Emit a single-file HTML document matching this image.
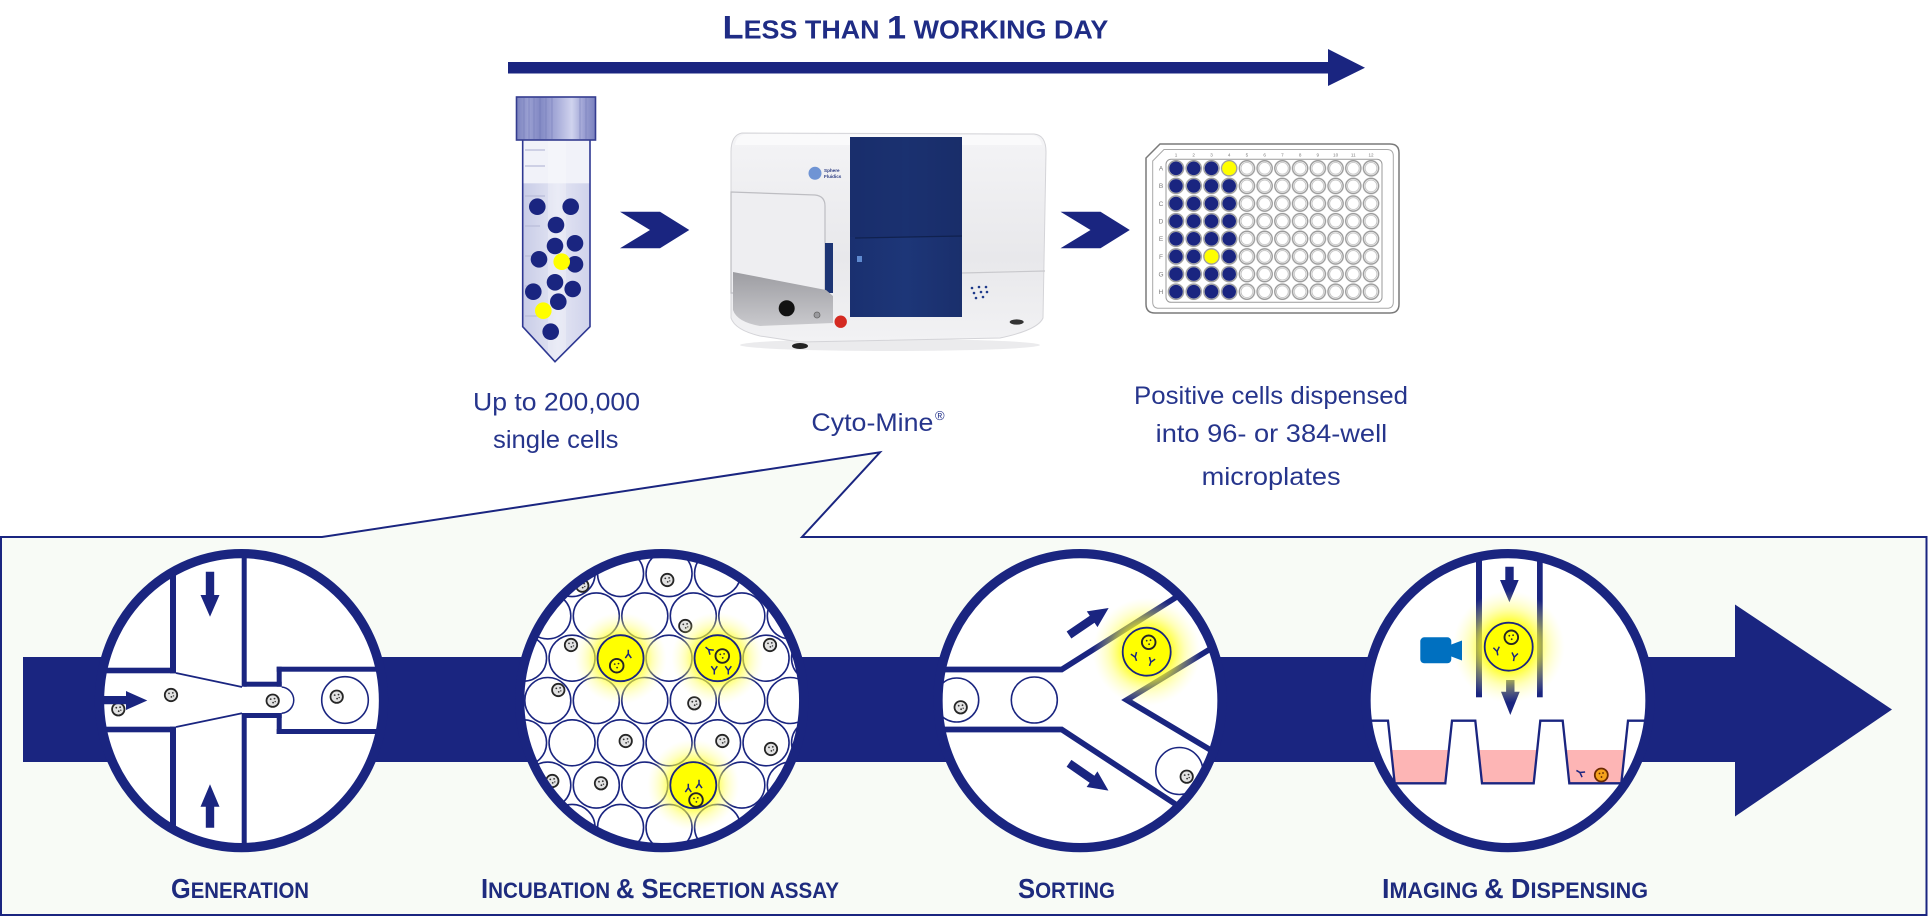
<!DOCTYPE html>
<html>
<head>
<meta charset="utf-8">
<style>
html,body{margin:0;padding:0;background:#ffffff;}
svg{display:block;}
</style>
</head>
<body>
<svg width="1928" height="920" viewBox="0 0 1928 920" xmlns="http://www.w3.org/2000/svg" xmlns:xlink="http://www.w3.org/1999/xlink" font-family="'Liberation Sans', Arial, sans-serif">
<defs>
  <radialGradient id="glow">
    <stop offset="0" stop-color="#ffff00" stop-opacity="1"/>
    <stop offset="0.45" stop-color="#ffff10" stop-opacity="0.85"/>
    <stop offset="0.7" stop-color="#ffff50" stop-opacity="0.4"/>
    <stop offset="1" stop-color="#ffffa0" stop-opacity="0"/>
  </radialGradient>
  <linearGradient id="capg" x1="0" x2="1" y1="0" y2="0">
    <stop offset="0" stop-color="#7c83bf"/>
    <stop offset="0.15" stop-color="#9aa0d2"/>
    <stop offset="0.3" stop-color="#8289c4"/>
    <stop offset="0.5" stop-color="#a5aad8"/>
    <stop offset="0.7" stop-color="#d0d3ee"/>
    <stop offset="0.85" stop-color="#9ca1d3"/>
    <stop offset="1" stop-color="#7a81be"/>
  </linearGradient>
  <linearGradient id="liq" x1="0" x2="1" y1="0" y2="0">
    <stop offset="0" stop-color="#c6cae6"/>
    <stop offset="0.5" stop-color="#e3e5f3"/>
    <stop offset="1" stop-color="#cdd0ea"/>
  </linearGradient>
  <linearGradient id="bodyg" x1="0" x2="0" y1="0" y2="1">
    <stop offset="0" stop-color="#f4f4f6"/>
    <stop offset="0.6" stop-color="#e8e8eb"/>
    <stop offset="1" stop-color="#f2f2f4"/>
  </linearGradient>
  <linearGradient id="blueg" x1="0" x2="1" y1="0" y2="0">
    <stop offset="0" stop-color="#1a3070"/>
    <stop offset="0.5" stop-color="#1d3678"/>
    <stop offset="1" stop-color="#1a2f6c"/>
  </linearGradient>
  <linearGradient id="grayg" x1="0" x2="0" y1="0" y2="1">
    <stop offset="0" stop-color="#9d9da2"/>
    <stop offset="1" stop-color="#c9c9cd"/>
  </linearGradient>
  <clipPath id="cl1"><ellipse cx="241.5" cy="700.6" rx="142" ry="147"/></clipPath>
  <clipPath id="cl2"><ellipse cx="661.7" cy="700.6" rx="142" ry="147"/></clipPath>
  <clipPath id="cl3"><ellipse cx="1080" cy="700.6" rx="142" ry="147"/></clipPath>
  <clipPath id="cl4"><ellipse cx="1508" cy="700.6" rx="142" ry="147"/></clipPath>
  <clipPath id="tubeclip"><path d="M522.7,140 L522.7,326.7 L555,361.7 L590,326.7 L590,140 Z"/></clipPath>
  <pattern id="wells" patternUnits="userSpaceOnUse" x="1167.135" y="159.485" width="17.73" height="17.63">
    <circle cx="8.865" cy="8.815" r="7.6" fill="#ffffff" stroke="#9a9a9a" stroke-width="1.4"/>
    <circle cx="8.865" cy="8.815" r="5.9" fill="none" stroke="#b8b8b8" stroke-width="0.8"/>
  </pattern>
  <g id="cell">
    <circle r="6.2" fill="#e2e2e2" stroke="#262626" stroke-width="1.8"/>
    <circle cx="-2" cy="-1.6" r="0.9" fill="#333"/>
    <circle cx="1.8" cy="-2.1" r="0.9" fill="#333"/>
    <circle cx="0.4" cy="1.9" r="0.9" fill="#333"/>
    <circle cx="2.5" cy="0.9" r="0.7" fill="#333"/>
  </g>
  <g id="ycell">
    <circle r="6.8" fill="#ffff00" stroke="#262626" stroke-width="1.9"/>
    <circle cx="-2" cy="-1.6" r="0.9" fill="#333"/>
    <circle cx="1.8" cy="-2.1" r="0.9" fill="#333"/>
    <circle cx="0.4" cy="1.9" r="0.9" fill="#333"/>
  </g>
  <g id="ab"><path d="M0,-4.5 V-0.5 L-3,3.8 M0,-0.5 L3,3.8" fill="none" stroke="#1a2580" stroke-width="1.5"/></g>
  <g id="navycol" fill="#1a2580">
    <circle cx="0" cy="168.3" r="6.8"/><circle cx="0" cy="185.93" r="6.8"/>
    <circle cx="0" cy="203.56" r="6.8"/><circle cx="0" cy="221.19" r="6.8"/>
    <circle cx="0" cy="238.82" r="6.8"/><circle cx="0" cy="256.45" r="6.8"/>
    <circle cx="0" cy="274.08" r="6.8"/><circle cx="0" cy="291.71" r="6.8"/>
  </g>
</defs>

<rect x="0" y="0" width="1928" height="920" fill="#ffffff"/>

<!-- Title -->
<text x="722.7" y="38.3" textLength="385.6" lengthAdjust="spacingAndGlyphs" font-weight="bold" fill="#1f2c85"><tspan font-size="32.5">L</tspan><tspan font-size="25.5">ESS THAN </tspan><tspan font-size="32.5">1</tspan><tspan font-size="25.5"> WORKING DAY</tspan></text>

<!-- Long arrow -->
<rect x="508" y="62" width="822" height="11.5" fill="#1a2580"/>
<polygon points="1328,49 1365,67.7 1328,86" fill="#1a2580"/>

<!-- Tube -->
<g>
  <path d="M522.7,140 L522.7,326.7 L555,361.7 L590,326.7 L590,140 Z" fill="#f1f2f9"/>
  <g clip-path="url(#tubeclip)">
    <rect x="520" y="183.3" width="75" height="185" fill="url(#liq)"/>
    <rect x="548" y="140" width="18" height="230" fill="#ffffff" opacity="0.25"/>
  </g>
  <g stroke="#b9bcd9" stroke-width="1.2">
    <line x1="525" y1="150" x2="545" y2="150"/>
    <line x1="525" y1="166" x2="545" y2="166"/>
    <line x1="525" y1="196" x2="545" y2="196"/>
    <line x1="525" y1="226" x2="540" y2="226"/>
    <line x1="525" y1="256" x2="540" y2="256"/>
    <line x1="525" y1="286" x2="540" y2="286"/>
    <line x1="525" y1="316" x2="540" y2="316"/>
  </g>
  <path d="M522.7,140 L522.7,326.7 L555,361.7 L590,326.7 L590,140" fill="none" stroke="#2e3892" stroke-width="1.6"/>
  <rect x="516.5" y="97" width="79" height="43" fill="url(#capg)" stroke="#343c8f" stroke-width="1.6"/>
  <g stroke="#6c73b4" stroke-width="0.8" opacity="0.6">
    <line x1="524" y1="98" x2="524" y2="139"/><line x1="529" y1="98" x2="529" y2="139"/>
    <line x1="534" y1="98" x2="534" y2="139"/><line x1="540" y1="98" x2="540" y2="139"/>
    <line x1="546" y1="98" x2="546" y2="139"/><line x1="552" y1="98" x2="552" y2="139"/>
    <line x1="580" y1="98" x2="580" y2="139"/><line x1="586" y1="98" x2="586" y2="139"/>
  </g>
  <g fill="#1a2580">
    <circle cx="537.3" cy="206.7" r="8.3"/><circle cx="570.7" cy="206.7" r="8.3"/>
    <circle cx="556" cy="225" r="8.3"/><circle cx="555" cy="246" r="8.3"/>
    <circle cx="575" cy="243.3" r="8.3"/><circle cx="539" cy="259.3" r="8.3"/>
    <circle cx="575" cy="264.3" r="8.3"/><circle cx="555" cy="282.3" r="8.3"/>
    <circle cx="572.7" cy="289" r="8.3"/><circle cx="533.3" cy="291.7" r="8.3"/>
    <circle cx="558.3" cy="301.7" r="8.3"/><circle cx="550.7" cy="331.7" r="8.3"/>
  </g>
  <circle cx="561.7" cy="261.7" r="8.3" fill="#ffff00"/>
  <circle cx="543.3" cy="310.7" r="8.3" fill="#ffff00"/>
</g>

<!-- Chevrons -->
<polygon points="620,211.7 660,211.7 689.3,230 660,248.3 620,248.3 650,230" fill="#1a2580"/>
<polygon points="1060.5,211.7 1100.5,211.7 1129.8,230 1100.5,248.3 1060.5,248.3 1090.5,230" fill="#1a2580"/>

<!-- Machine -->
<g>
  <ellipse cx="890" cy="345" rx="150" ry="6" fill="#e6e6e8" opacity="0.8"/>
  <path d="M742,133 Q731,135 731,152 L731,318 Q735,330 760,336 L800,342 L1000,338 Q1038,330 1043,318 L1046,152 Q1046,135 1034,134 Z" fill="url(#bodyg)" stroke="#d4d4d8" stroke-width="1"/>
  <path d="M745,134 L1032,135 Q1040,136 1042,145 L735,145 Q736,136 745,134 Z" fill="#fafafb"/>
  <path d="M731,192 L815,195 Q825,196 825,206 L825,293 L731,293 Z" fill="#eeeef1" stroke="#bdbdc2" stroke-width="1.2"/>
  <rect x="825" y="243" width="8" height="50" fill="#1d3574"/>
  <path d="M733,272 L826,290 L833,296 L833,323 L760,326 Q737,322 733,310 Z" fill="url(#grayg)"/>
  <circle cx="786.7" cy="308.3" r="8" fill="#121212"/>
  <circle cx="817" cy="315" r="3" fill="#9a9a9e" stroke="#666" stroke-width="0.8"/>
  <circle cx="840.7" cy="321.7" r="6.2" fill="#d42a22"/>
  <line x1="962" y1="273" x2="1045" y2="271" stroke="#c8c8cc" stroke-width="1.2"/>
  <rect x="850" y="137" width="112" height="180" fill="url(#blueg)"/>
  <rect x="850" y="137" width="112" height="100" fill="#182c68" opacity="0.5"/>
  <line x1="855" y1="238" x2="962" y2="236" stroke="#10214f" stroke-width="1.2"/>
  <rect x="857" y="256" width="5" height="6" fill="#5f8ad0"/>
  <circle cx="815" cy="173.3" r="6.5" fill="#6f94d4"/>
  <text x="824" y="172" font-size="4.6" fill="#2a3a80" font-weight="bold">Sphere</text>
  <text x="824" y="178" font-size="4.6" fill="#2a3a80" font-weight="bold">Fluidics</text>
  <g fill="#1e3a8a">
    <circle cx="972" cy="288" r="1.3"/><circle cx="979" cy="287" r="1.3"/><circle cx="986" cy="287" r="1.3"/>
    <circle cx="974" cy="293" r="1.3"/><circle cx="981" cy="292" r="1.3"/><circle cx="987" cy="292" r="1.3"/>
    <circle cx="976" cy="298" r="1.3"/><circle cx="983" cy="297" r="1.3"/>
  </g>
  <ellipse cx="800" cy="346" rx="8" ry="3" fill="#222"/>
  <ellipse cx="1016.7" cy="322" rx="7" ry="2.6" fill="#333"/>
</g>

<!-- Plate -->
<g>
  <path d="M1160,144 L1390,144 Q1399,144 1399,153 L1399,304 Q1399,313 1390,313 L1155,313 Q1146,313 1146,304 L1146,158 Z" fill="#ffffff" stroke="#7a7a7a" stroke-width="1.5"/>
  <path d="M1164,149.5 L1387,149.5 Q1393.3,149.5 1393.3,156 L1393.3,302 Q1393.3,308.3 1387,308.3 L1159,308.3 Q1152.7,308.3 1152.7,302 L1152.7,161 Z" fill="none" stroke="#a8a8a8" stroke-width="1"/>
  <rect x="1166" y="159.3" width="216" height="143" rx="5" fill="#ffffff" stroke="#9a9a9a" stroke-width="1"/>
  <rect x="1167.135" y="159.485" width="212.76" height="141.04" fill="url(#wells)"/>
  <use xlink:href="#navycol" x="1176"/>
  <use xlink:href="#navycol" x="1193.73"/>
  <use xlink:href="#navycol" x="1211.46"/>
  <use xlink:href="#navycol" x="1229.19"/>
  <circle cx="1229.19" cy="168.3" r="7" fill="#ffff00"/>
  <circle cx="1211.46" cy="256.45" r="7" fill="#ffff00"/>
  <g font-size="4.6" fill="#7a7a7a" text-anchor="middle">
    <text x="1176" y="156.5">1</text><text x="1193.7" y="156.5">2</text><text x="1211.5" y="156.5">3</text>
    <text x="1229.2" y="156.5">4</text><text x="1246.9" y="156.5">5</text><text x="1264.7" y="156.5">6</text>
    <text x="1282.4" y="156.5">7</text><text x="1300.1" y="156.5">8</text><text x="1317.8" y="156.5">9</text>
    <text x="1335.6" y="156.5">10</text><text x="1353.3" y="156.5">11</text><text x="1371" y="156.5">12</text>
  </g>
  <g font-size="6.5" fill="#7a7a7a" text-anchor="middle">
    <text x="1161" y="170.6">A</text><text x="1161" y="188.2">B</text><text x="1161" y="205.9">C</text>
    <text x="1161" y="223.5">D</text><text x="1161" y="241.1">E</text><text x="1161" y="258.8">F</text>
    <text x="1161" y="276.4">G</text><text x="1161" y="294">H</text>
  </g>
</g>

<!-- Top labels -->
<g font-size="25" fill="#26358c">
  <text x="473" y="410.5" textLength="167" lengthAdjust="spacingAndGlyphs">Up to 200,000</text>
  <text x="493" y="448" textLength="125.5" lengthAdjust="spacingAndGlyphs">single cells</text>
  <text x="811.4" y="431" textLength="122" lengthAdjust="spacingAndGlyphs">Cyto-Mine</text>
  <text x="935" y="420" font-size="13">®</text>
  <text x="1134" y="404" textLength="274" lengthAdjust="spacingAndGlyphs">Positive cells dispensed</text>
  <text x="1155.7" y="442" textLength="231.5" lengthAdjust="spacingAndGlyphs">into 96- or 384-well</text>
  <text x="1201.6" y="485" textLength="139" lengthAdjust="spacingAndGlyphs">microplates</text>
</g>

<!-- Panel with callout -->
<path d="M1,537 L322,537 L880,452.3 L802,537 L1926.5,537 L1926.5,915 L1,915 Z" fill="#f8fbf6" stroke="#1a2580" stroke-width="2"/>

<!-- Band and arrowhead -->
<rect x="23" y="657" width="1713" height="105" fill="#1a2580"/>
<polygon points="1735,604.5 1892,709.5 1735,816.5" fill="#1a2580"/>

<!-- ===== Circle 1: Generation ===== -->
<ellipse cx="241.5" cy="700.6" rx="142" ry="147" fill="#ffffff"/>
<g clip-path="url(#cl1)">
  <g fill="#1a2580">
    <rect x="170" y="540" width="6" height="133.3"/>
    <rect x="170" y="726.7" width="6" height="140"/>
    <rect x="90" y="667.7" width="86" height="5.6"/>
    <rect x="90" y="726.7" width="86" height="5.6"/>
    <rect x="241.7" y="540" width="5" height="146.7"/>
    <rect x="241.7" y="713" width="5" height="150"/>
    <rect x="244" y="681.7" width="37.7" height="5"/>
    <rect x="244" y="713" width="37.7" height="5"/>
    <rect x="276.7" y="666.7" width="5" height="20"/>
    <rect x="276.7" y="713" width="5" height="21"/>
    <rect x="276.7" y="666.7" width="130" height="5"/>
    <rect x="276.7" y="729" width="130" height="5"/>
  </g>
  <line x1="176" y1="673" x2="242" y2="687" stroke="#1a2580" stroke-width="1.8"/>
  <line x1="176" y1="727" x2="242" y2="713.2" stroke="#1a2580" stroke-width="1.8"/>
  <path d="M281.7,687 A13.2,13.2 0 0 1 281.7,713.3" fill="#ffffff" stroke="#1a2580" stroke-width="1.5"/>
  <circle cx="345" cy="700" r="23.3" fill="#ffffff" stroke="#1a2580" stroke-width="1.6"/>
  <polygon points="205.8,571.7 214.2,571.7 214.2,595 219.5,595 210,616.7 200.5,595 205.8,595" fill="#1a2580"/>
  <polygon points="210,784.3 219.5,806.7 214.2,806.7 214.2,827.7 205.8,827.7 205.8,806.7 200.5,806.7" fill="#1a2580"/>
  <use xlink:href="#cell" x="118.3" y="709.3"/>
  <polygon points="102.3,696 126,696 126,691 147.3,700.5 126,710 126,704.3 102.3,704.3" fill="#1a2580"/>
  <use xlink:href="#cell" x="171" y="695"/>
  <use xlink:href="#cell" x="272.7" y="700.7"/>
  <use xlink:href="#cell" x="336.7" y="696.7"/>
</g>
<ellipse cx="241.5" cy="700.6" rx="142" ry="147" fill="none" stroke="#1a2580" stroke-width="9.3"/>

<!-- ===== Circle 2: Incubation ===== -->
<ellipse cx="661.7" cy="700.6" rx="142" ry="147" fill="#ffffff"/>
<g clip-path="url(#cl2)">
  <g fill="#ffffff" stroke="#1a2580" stroke-width="1.6">
    <circle cx="523.55" cy="573.6" r="23"/><circle cx="572.05" cy="573.6" r="23"/><circle cx="620.55" cy="573.6" r="23"/>
    <circle cx="669.05" cy="573.6" r="23"/><circle cx="717.55" cy="573.6" r="23"/><circle cx="766.05" cy="573.6" r="23"/>
    <circle cx="814.55" cy="573.6" r="23"/>
    <circle cx="499.3" cy="615.9" r="23"/><circle cx="547.8" cy="615.9" r="23"/><circle cx="596.3" cy="615.9" r="23"/>
    <circle cx="644.8" cy="615.9" r="23"/><circle cx="693.3" cy="615.9" r="23"/><circle cx="741.8" cy="615.9" r="23"/>
    <circle cx="790.3" cy="615.9" r="23"/><circle cx="838.8" cy="615.9" r="23"/>
    <circle cx="523.55" cy="658.2" r="23"/><circle cx="572.05" cy="658.2" r="23"/><circle cx="620.55" cy="658.2" r="23"/>
    <circle cx="669.05" cy="658.2" r="23"/><circle cx="717.55" cy="658.2" r="23"/><circle cx="766.05" cy="658.2" r="23"/>
    <circle cx="814.55" cy="658.2" r="23"/>
    <circle cx="499.3" cy="700.5" r="23"/><circle cx="547.8" cy="700.5" r="23"/><circle cx="596.3" cy="700.5" r="23"/>
    <circle cx="644.8" cy="700.5" r="23"/><circle cx="693.3" cy="700.5" r="23"/><circle cx="741.8" cy="700.5" r="23"/>
    <circle cx="790.3" cy="700.5" r="23"/><circle cx="838.8" cy="700.5" r="23"/>
    <circle cx="523.55" cy="742.8" r="23"/><circle cx="572.05" cy="742.8" r="23"/><circle cx="620.55" cy="742.8" r="23"/>
    <circle cx="669.05" cy="742.8" r="23"/><circle cx="717.55" cy="742.8" r="23"/><circle cx="766.05" cy="742.8" r="23"/>
    <circle cx="814.55" cy="742.8" r="23"/>
    <circle cx="499.3" cy="785.1" r="23"/><circle cx="547.8" cy="785.1" r="23"/><circle cx="596.3" cy="785.1" r="23"/>
    <circle cx="644.8" cy="785.1" r="23"/><circle cx="693.3" cy="785.1" r="23"/><circle cx="741.8" cy="785.1" r="23"/>
    <circle cx="790.3" cy="785.1" r="23"/><circle cx="838.8" cy="785.1" r="23"/>
    <circle cx="523.55" cy="827.4" r="23"/><circle cx="572.05" cy="827.4" r="23"/><circle cx="620.55" cy="827.4" r="23"/>
    <circle cx="669.05" cy="827.4" r="23"/><circle cx="717.55" cy="827.4" r="23"/><circle cx="766.05" cy="827.4" r="23"/>
    <circle cx="814.55" cy="827.4" r="23"/>
  </g>
  <use xlink:href="#cell" x="582.3" y="585.7"/>
  <use xlink:href="#cell" x="667.3" y="580"/>
  <use xlink:href="#cell" x="685.3" y="626"/>
  <use xlink:href="#cell" x="571" y="645"/>
  <use xlink:href="#cell" x="770" y="645"/>
  <use xlink:href="#cell" x="558.3" y="690"/>
  <use xlink:href="#cell" x="694.3" y="703.3"/>
  <use xlink:href="#cell" x="625.7" y="741"/>
  <use xlink:href="#cell" x="722.3" y="741"/>
  <use xlink:href="#cell" x="771" y="749"/>
  <use xlink:href="#cell" x="552.3" y="781"/>
  <use xlink:href="#cell" x="601" y="783.3"/>
  <circle cx="620.55" cy="658.2" r="46" fill="url(#glow)"/>
  <circle cx="717.55" cy="658.2" r="46" fill="url(#glow)"/>
  <circle cx="693.3" cy="785.1" r="46" fill="url(#glow)"/>
  <g fill="#ffff00" stroke="#1a2580" stroke-width="1.8">
    <circle cx="620.55" cy="658.2" r="23"/>
    <circle cx="717.55" cy="658.2" r="23"/>
    <circle cx="693.3" cy="785.1" r="23"/>
  </g>
  <use xlink:href="#ycell" x="616.7" y="665.7"/>
  <use xlink:href="#ycell" x="722.3" y="656"/>
  <use xlink:href="#ycell" x="696" y="800"/>
  <use xlink:href="#ab" x="628.3" y="654.3"/>
  <use xlink:href="#ab" transform="rotate(-50 709 650)" x="709" y="650"/>
  <use xlink:href="#ab" transform="rotate(180 714.3 670)" x="714.3" y="670"/>
  <use xlink:href="#ab" transform="rotate(180 728.3 670)" x="728.3" y="670"/>
  <use xlink:href="#ab" x="688.3" y="788.3"/>
  <use xlink:href="#ab" x="699" y="784.3"/>
</g>
<ellipse cx="661.7" cy="700.6" rx="142" ry="147" fill="none" stroke="#1a2580" stroke-width="9.3"/>

<!-- ===== Circle 3: Sorting ===== -->
<ellipse cx="1080" cy="700.6" rx="142" ry="147" fill="#ffffff"/>
<g clip-path="url(#cl3)">
  <g fill="none" stroke="#1a2580" stroke-width="5.7" stroke-linejoin="miter">
    <polyline points="920,669.5 1061.7,669.5 1240,556.9"/>
    <polyline points="920,729.5 1061.7,729.5 1240,846.5"/>
    <polyline points="1270,612.5 1126.7,700 1270,785.5"/>
  </g>
  <circle cx="956.7" cy="700" r="22" fill="#ffffff" stroke="#1a2580" stroke-width="1.6"/>
  <circle cx="1034.3" cy="700" r="23" fill="#ffffff" stroke="#1a2580" stroke-width="1.6"/>
  <use xlink:href="#cell" x="960.7" y="707.3"/>
  <circle cx="1179.3" cy="771" r="23.5" fill="#ffffff" stroke="#1a2580" stroke-width="1.6"/>
  <use xlink:href="#cell" x="1186.7" y="776.7"/>
  <g transform="translate(1069,635) rotate(-34.3)">
    <polygon points="0,-4.2 28,-4.2 28,-9.5 48,0 28,9.5 28,4.2 0,4.2" fill="#1a2580"/>
  </g>
  <g transform="translate(1069,763.3) rotate(34.7)">
    <polygon points="0,-4.2 28,-4.2 28,-9.5 48,0 28,9.5 28,4.2 0,4.2" fill="#1a2580"/>
  </g>
  <circle cx="1146.7" cy="651.7" r="54" fill="url(#glow)"/>
  <circle cx="1146.7" cy="651.7" r="24" fill="#ffff00" stroke="#1a2580" stroke-width="1.8"/>
  <use xlink:href="#ycell" x="1148.7" y="642.3"/>
  <use xlink:href="#ab" transform="rotate(160 1135 656.7)" x="1135" y="656.7"/>
  <use xlink:href="#ab" transform="rotate(200 1151 661.7)" x="1151" y="661.7"/>
</g>
<ellipse cx="1080" cy="700.6" rx="142" ry="147" fill="none" stroke="#1a2580" stroke-width="9.3"/>

<!-- ===== Circle 4: Imaging & Dispensing ===== -->
<ellipse cx="1508" cy="700.6" rx="142" ry="147" fill="#ffffff"/>
<g clip-path="url(#cl4)">
  <polygon points="1391.1,750 1448.9,750 1445.3,783.3 1394.7,783.3" fill="#fdb5b5"/>
  <polygon points="1478.6,750 1537.2,750 1533.7,783.3 1482,783.3" fill="#fdb5b5"/>
  <polygon points="1565.8,750 1624.9,750 1621.3,783.3 1569.3,783.3" fill="#fdb5b5"/>
  <polyline points="1355,720.7 1388,720.7 1394.7,783.3 1445.3,783.3 1452,720.7 1475.3,720.7 1482,783.3 1533.7,783.3 1540.3,720.7 1562.7,720.7 1569.3,783.3 1621.3,783.3 1628,720.7 1665,720.7" fill="none" stroke="#1a2580" stroke-width="2.3"/>
  <rect x="1476" y="540" width="6" height="157.3" fill="#1a2580"/>
  <rect x="1537" y="540" width="5.7" height="157.3" fill="#1a2580"/>
  <polygon points="1505.3,566.7 1513.7,566.7 1513.7,580 1518.7,580 1509.4,602.3 1500,580 1505.3,580" fill="#1a2580"/>
  <polygon points="1506.1,680 1514.5,680 1514.5,691.7 1519.7,691.7 1510.3,715 1501,691.7 1506.1,691.7" fill="#1a2580"/>
  <circle cx="1508.7" cy="646.7" r="56" fill="url(#glow)"/>
  <circle cx="1508.7" cy="646.7" r="24" fill="#ffff00" stroke="#1a2580" stroke-width="1.8"/>
  <use xlink:href="#ycell" x="1511.3" y="637.3"/>
  <use xlink:href="#ab" transform="rotate(170 1497 651)" x="1497" y="651"/>
  <use xlink:href="#ab" transform="rotate(190 1514.3 656.7)" x="1514.3" y="656.7"/>
  <rect x="1420.3" y="637.3" width="31" height="26" rx="4" fill="#0070c0"/>
  <polygon points="1450,645 1462,640.5 1462,660.5 1450,656" fill="#0070c0"/>
  <use xlink:href="#ab" transform="rotate(-60 1580.3 772.7)" x="1580.3" y="772.7"/>
  <circle cx="1601.3" cy="775" r="6.5" fill="#f5a21c" stroke="#6b2a00" stroke-width="1.8"/>
  <circle cx="1599.5" cy="773.5" r="0.9" fill="#5a2400"/>
  <circle cx="1603" cy="773" r="0.9" fill="#5a2400"/>
  <circle cx="1601.5" cy="777" r="0.9" fill="#5a2400"/>
</g>
<ellipse cx="1508" cy="700.6" rx="142" ry="147" fill="none" stroke="#1a2580" stroke-width="9.3"/>

<!-- Bottom labels -->
<g font-weight="bold" fill="#1e2b7e">
  <text x="171" y="898" textLength="138" lengthAdjust="spacingAndGlyphs"><tspan font-size="28">G</tspan><tspan font-size="22.5">ENERATION</tspan></text>
  <text x="481" y="898" textLength="358" lengthAdjust="spacingAndGlyphs"><tspan font-size="28">I</tspan><tspan font-size="22.5">NCUBATION </tspan><tspan font-size="28">&amp; S</tspan><tspan font-size="22.5">ECRETION ASSAY</tspan></text>
  <text x="1018" y="898" textLength="97" lengthAdjust="spacingAndGlyphs"><tspan font-size="28">S</tspan><tspan font-size="22.5">ORTING</tspan></text>
  <text x="1382" y="898" textLength="266" lengthAdjust="spacingAndGlyphs"><tspan font-size="28">I</tspan><tspan font-size="22.5">MAGING </tspan><tspan font-size="28">&amp; D</tspan><tspan font-size="22.5">ISPENSING</tspan></text>
</g>
</svg>
</body>
</html>
